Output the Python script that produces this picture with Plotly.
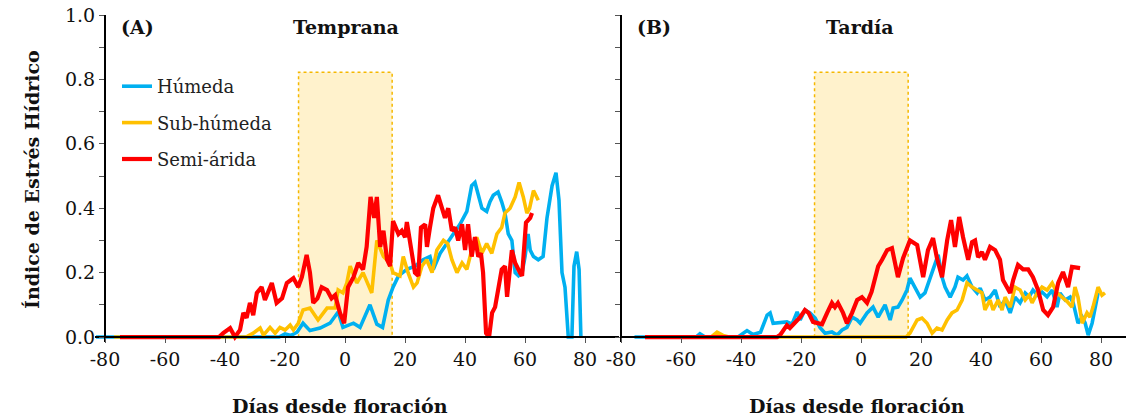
import plotly.graph_objects as go

# ---------------- data (días desde floración, índice de estrés hídrico) ----------------
A_HUMEDA = [(-83, 0), (-22, 0), (-20, 0.01), (-18, 0.005), (-16, 0.015), (-14, 0.043), (-11.7, 0.02),
            (-8.3, 0.028), (-5, 0.043), (-2.3, 0.078), (-0.7, 0.03), (2.8, 0.043), (5, 0.03), (8.3, 0.1),
            (10.6, 0.04), (12.5, 0.03), (14.4, 0.115), (16, 0.155), (17.8, 0.19), (20.6, 0.21), (23.3, 0.22),
            (26, 0.24), (28.3, 0.25), (29.4, 0.21), (31.7, 0.26), (33.9, 0.29), (36, 0.32), (38.3, 0.35),
            (40.6, 0.39), (42.2, 0.47), (43.3, 0.48), (44.4, 0.44), (45.6, 0.40), (47.2, 0.39), (48.3, 0.42),
            (49.4, 0.44), (51, 0.45), (52.2, 0.42), (53.3, 0.385), (54.4, 0.32), (55.6, 0.30), (56.7, 0.2),
            (57.8, 0.19), (59, 0.2), (60, 0.25), (61, 0.32), (61.7, 0.27), (62.8, 0.25), (64.4, 0.24),
            (66, 0.25), (67.3, 0.37), (69, 0.47), (70.3, 0.51), (71.3, 0.425), (72.3, 0.2), (73.3, 0.155),
            (74.4, 0), (75.6, 0), (76.3, 0.22), (77.2, 0.265), (78, 0.21), (78.6, 0)]

A_SUBHUMEDA = [(-77, 0), (-33, 0), (-30.6, 0.012), (-28.3, 0.028), (-27.2, 0.006), (-25, 0.03), (-23.3, 0.012),
               (-21.7, 0.03), (-20, 0.022), (-18.3, 0.037), (-17.2, 0.022), (-15.6, 0.043), (-14, 0.084),
               (-11.7, 0.09), (-9, 0.053), (-6, 0.09), (-3.3, 0.09), (-2.3, 0.146), (-0.7, 0.137), (0.6, 0.168),
               (1.7, 0.22), (3.9, 0.168), (6, 0.2), (8.9, 0.137), (10.6, 0.3), (12.8, 0.25), (15, 0.23),
               (16, 0.2), (18.3, 0.19), (19.4, 0.25), (21, 0.2), (22.8, 0.155), (24, 0.168), (25.6, 0.22),
               (27.2, 0.24), (29, 0.2), (30.6, 0.27), (32.8, 0.30), (34.2, 0.29), (35.6, 0.24), (37.3, 0.2),
               (39, 0.23), (40.6, 0.21), (42.2, 0.27), (43.9, 0.31), (45.6, 0.26), (47.2, 0.29), (48.9, 0.26),
               (50.6, 0.32), (52.2, 0.34), (53.3, 0.385), (55, 0.40), (56.7, 0.435), (58, 0.48), (59.4, 0.435),
               (60.6, 0.385), (61.5, 0.40), (62.8, 0.455), (64.4, 0.425)]

A_SEMIARIDA = [(-75, 0), (-42, 0), (-40.6, 0.012), (-38.3, 0.028), (-36.7, 0), (-35, 0.022), (-33.9, 0.075),
               (-32.8, 0.06), (-31.7, 0.106), (-30.6, 0.068), (-29.4, 0.137), (-27.8, 0.155), (-26.7, 0.115),
               (-24.4, 0.168), (-22.8, 0.106), (-21, 0.12), (-19.4, 0.168), (-17.2, 0.183), (-15.6, 0.155),
               (-14.4, 0.186), (-12.8, 0.255), (-11.7, 0.2), (-10.6, 0.106), (-9.2, 0.12), (-7.8, 0.155),
               (-6, 0.146), (-4.5, 0.12), (-3.3, 0.13), (-1.7, 0.075), (-0.3, 0.043), (1, 0.155), (2.8, 0.186),
               (4.4, 0.23), (6, 0.21), (7.2, 0.28), (8.5, 0.435), (9.7, 0.37), (10.6, 0.435), (11.7, 0.28),
               (12.8, 0.33), (14, 0.24), (15, 0.22), (16, 0.36), (17.8, 0.32), (18.9, 0.33), (20, 0.31),
               (20.6, 0.357), (22.2, 0.26), (23.3, 0.2), (24.4, 0.19), (25.3, 0.34), (26.7, 0.35), (27.3, 0.28),
               (28.3, 0.34), (29.4, 0.40), (31, 0.44), (32.3, 0.40), (33.3, 0.37), (34.4, 0.40), (35.6, 0.33),
               (36.7, 0.34), (37.7, 0.30), (39, 0.35), (40, 0.27), (41, 0.35), (42.2, 0.25), (43.3, 0.31),
               (44.4, 0.25), (45.3, 0.26), (46, 0.2), (47, 0.012), (48, 0), (49, 0.075), (50, 0.093),
               (51, 0.146), (52.2, 0.21), (53.3, 0.22), (54, 0.125), (55.6, 0.27), (56.7, 0.23), (58.3, 0.2),
               (59, 0.19), (60.3, 0.355), (61.7, 0.37), (62.3, 0.385)]

B_HUMEDA = [(-75.5, 0), (-55, 0), (-53.7, 0.01), (-52, 0), (-41, 0), (-38, 0.02), (-36, 0.008), (-33.5, 0.015),
            (-31.3, 0.068), (-30.3, 0.075), (-29.3, 0.043), (-27, 0.045), (-24.7, 0.047), (-23, 0.04),
            (-21.3, 0.078), (-20.3, 0.053), (-18.7, 0.084), (-17, 0.075), (-15.3, 0.059), (-13.7, 0.03),
            (-12, 0.012), (-9.7, 0.016), (-8, 0.006), (-6.3, 0.022), (-4.7, 0.03), (-3, 0.062), (-1.3, 0.053),
            (-0.3, 0.043), (2, 0.075), (4, 0.093), (5.7, 0.062), (8, 0.1), (9.7, 0.053), (10.7, 0.09),
            (12.3, 0.093), (13.7, 0.115), (15.3, 0.146), (16.3, 0.183), (18, 0.155), (19.7, 0.124),
            (21.3, 0.137), (23, 0.186), (24.7, 0.23), (25.7, 0.255), (27, 0.186), (28, 0.155), (29.7, 0.124),
            (31.3, 0.155), (32.3, 0.186), (34, 0.177), (35.3, 0.19), (37, 0.155), (38.7, 0.137), (39.7, 0.152),
            (41.3, 0.115), (43, 0.124), (44.7, 0.146), (46.3, 0.093), (48, 0.115), (49.7, 0.075), (51.3, 0.124),
            (53, 0.106), (54.7, 0.137), (56, 0.125), (57.3, 0.146), (58.8, 0.13), (60.3, 0.14), (62, 0.125),
            (63.7, 0.146), (65.3, 0.093), (66.3, 0.137), (68, 0.115), (69.7, 0.124), (70.7, 0.106),
            (72.3, 0.043), (73.7, 0.062), (74.7, 0.043), (75.7, 0.006), (77, 0.043), (78, 0.084), (79, 0.137)]

B_SUBHUMEDA = [(-72, 0), (-50, 0), (-48, 0.015), (-46, 0.005), (-44, 0), (15, 0), (16.3, 0.012), (18.7, 0.053),
               (20.3, 0.059), (22, 0.043), (23.7, 0.012), (25.3, 0.028), (27, 0.022), (28.7, 0.053),
               (30.3, 0.075), (32, 0.084), (33.7, 0.115), (35.3, 0.168), (37, 0.155), (38.7, 0.146),
               (40.3, 0.137), (41.3, 0.084), (43, 0.115), (44, 0.084), (45.7, 0.115), (47, 0.084), (48, 0.124),
               (49.7, 0.093), (51.3, 0.155), (53, 0.146), (54.7, 0.115), (56, 0.13), (57, 0.106), (58.7, 0.137),
               (60.3, 0.155), (62, 0.146), (63.7, 0.168), (65.3, 0.137), (67, 0.124), (68.7, 0.11),
               (70.3, 0.093), (71.3, 0.155), (72.3, 0.124), (73.7, 0.043), (75.3, 0.075), (76.3, 0.062),
               (77.3, 0.093), (79, 0.155), (80.3, 0.13), (81.3, 0.137)]

B_SEMIARIDA = [(-72, 0), (-28, 0), (-27, 0.006), (-26, 0.022), (-24.7, 0.037), (-23.7, 0.028), (-22, 0.043),
               (-20.3, 0.062), (-18.7, 0.084), (-17.5, 0.075), (-16, 0.047), (-14.3, 0.043), (-13, 0.04),
               (-11.3, 0.075), (-9.7, 0.106), (-8.7, 0.093), (-7.7, 0.106), (-6, 0.075), (-4.7, 0.043),
               (-3, 0.075), (-1.3, 0.115), (0.3, 0.124), (2, 0.106), (3.5, 0.14), (5.7, 0.22), (7, 0.24),
               (8.7, 0.27), (10.3, 0.276), (12.3, 0.186), (14, 0.245), (16.3, 0.30), (18.7, 0.286),
               (20.7, 0.186), (22.3, 0.27), (24, 0.307), (25.3, 0.245), (27, 0.186), (28.7, 0.30), (30, 0.363),
               (31.3, 0.28), (32.7, 0.373), (34, 0.31), (35.7, 0.24), (37, 0.295), (38, 0.30), (39, 0.248),
               (40.3, 0.264), (41.3, 0.24), (43, 0.28), (44.7, 0.27), (46.3, 0.24), (47.3, 0.177),
               (48.7, 0.155), (49.7, 0.137), (50.7, 0.177), (52.3, 0.224), (54, 0.21), (55.7, 0.21),
               (57.3, 0.186), (59, 0.146), (60.7, 0.084), (62.3, 0.068), (64, 0.093), (65.7, 0.168),
               (67.3, 0.202), (69, 0.155), (70.3, 0.218), (72, 0.214), (73, 0.214)]

SERIES_NAMES = ["Húmeda", "Sub-húmeda", "Semi-árida"]
COLORS = ["#00B0F0", "#FFC000", "#FF0000"]
X_TICKS = [-80, -60, -40, -20, 0, 20, 40, 60, 80]
X_TICK_TEXT = ["-80", "-60", "-40", "-20", "0", "20", "40", "60", "80"]
Y_TICKS = [0.0, 0.2, 0.4, 0.6, 0.8, 1.0]
WINDOW = (-15.5, 15.7, 0.822)  # critical period box (x0, x1, top)

# ---------------- layout geometry (pixels) ----------------
W, H = 1126, 418
FONT = "DejaVu Serif"


def px_x(p):
    return p / W


def px_y(p):
    return 1 - p / H


fig = go.Figure()

panel_data = [(A_HUMEDA, A_SUBHUMEDA, A_SEMIARIDA), (B_HUMEDA, B_SUBHUMEDA, B_SEMIARIDA)]
for pi, series in enumerate(panel_data):
    xa, ya = ("x", "y") if pi == 0 else ("x2", "y2")
    for si, pts in enumerate(series):
        fig.add_trace(go.Scatter(
            x=[p[0] for p in pts], y=[p[1] for p in pts],
            mode="lines", name=SERIES_NAMES[si],
            line=dict(color=COLORS[si], width=4.2 if si == 2 else 3.6),
            xaxis=xa, yaxis=ya, showlegend=(pi == 0),
            legendgroup=SERIES_NAMES[si],
        ))

# shaded critical period
for xr, yr in (("x", "y"), ("x2", "y2")):
    fig.add_shape(type="rect", xref=xr, yref=yr, x0=WINDOW[0], x1=WINDOW[1], y0=0, y1=WINDOW[2],
                  fillcolor="#FFF2CC", line=dict(color="#F5B800", width=1.5, dash="dot"), layer="below")

tickfont = dict(family=FONT, size=19, color="#111")
xcommon = dict(tickvals=X_TICKS, ticktext=X_TICK_TEXT, ticks="outside", ticklen=5, tickcolor="#555",
               showline=True, linecolor="black", linewidth=2, showgrid=False, zeroline=False,
               tickfont=tickfont, anchor="free", position=px_y(337), automargin=False)
ycommon = dict(range=[-0.016, 1.0], tickvals=Y_TICKS, tickformat=".1f", ticks="outside", ticklen=5,
               tickcolor="#555", showline=True, linecolor="black", linewidth=2, showgrid=False,
               zeroline=False, tickfont=tickfont, anchor="free", automargin=False,
               minor=dict(dtick=0.1, tick0=0, ticks="outside", ticklen=5, tickcolor="#555"),
               domain=[px_y(342.2), px_y(15)])

fig.update_layout(
    width=W, height=H, margin=dict(l=0, r=0, t=0, b=0, autoexpand=False),
    paper_bgcolor="white", plot_bgcolor="white",
    xaxis=dict(domain=[px_x(94.5), px_x(619)], range=[-83.5, 91.3], **xcommon),
    xaxis2=dict(domain=[px_x(621), 1.0], range=[-80, 88.3], **xcommon),
    yaxis=dict(position=px_x(105), **ycommon),
    yaxis2=dict(position=px_x(621), showticklabels=False, **ycommon),
    legend=dict(x=px_x(117), y=px_y(68), xanchor="left", yanchor="top", bgcolor="rgba(0,0,0,0)",
                font=dict(family=FONT, size=18, color="#222"), tracegroupgap=10),
    showlegend=True,
)

ann_bold = dict(family=FONT, size=19, color="#111", weight="bold")
annotations = [
    dict(text="(A)", x=px_x(137), y=px_y(27)),
    dict(text="Temprana", x=px_x(346), y=px_y(27)),
    dict(text="(B)", x=px_x(654), y=px_y(27)),
    dict(text="Tardía", x=px_x(860), y=px_y(27)),
    dict(text="Días desde floración", x=px_x(340), y=px_y(406)),
    dict(text="Días desde floración", x=px_x(857), y=px_y(406)),
    dict(text="Índice de Estrés Hídrico", x=px_x(32), y=px_y(180), textangle=-90),
]
for a in annotations:
    fig.add_annotation(xref="paper", yref="paper", xanchor="center", yanchor="middle",
                       showarrow=False, font=ann_bold, **a)

fig.write_html("out.html")
